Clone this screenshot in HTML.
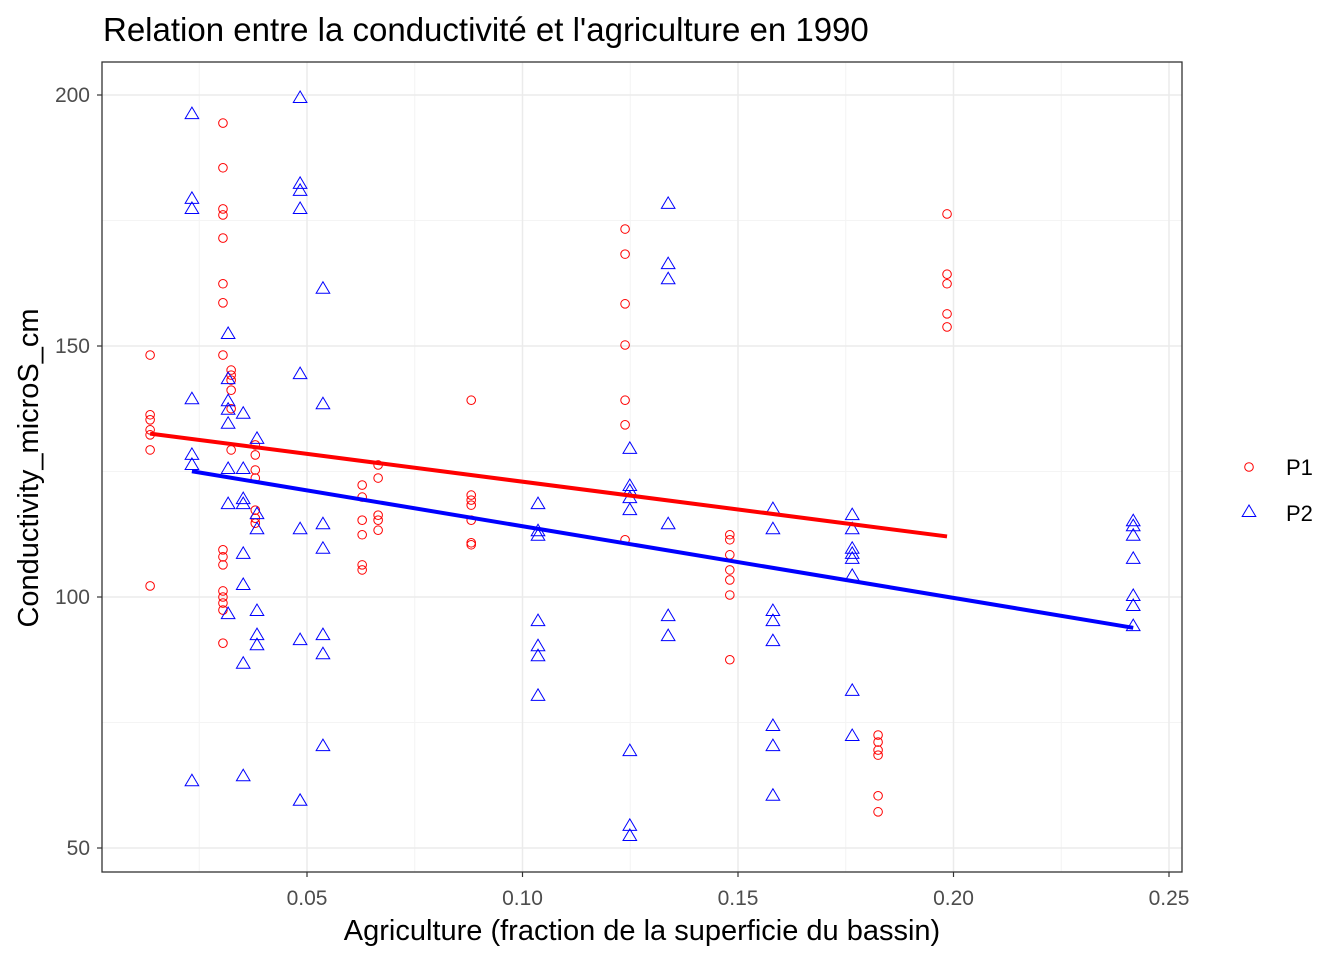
<!DOCTYPE html>
<html><head><meta charset="utf-8"><style>
body{margin:0;background:#fff}
svg{display:block;font-family:"Liberation Sans",Arial,sans-serif}
</style></head><body>
<svg id="c" width="1344" height="960" xmlns="http://www.w3.org/2000/svg"></svg>
<script>
const xTicks=[0.05,0.10,0.15,0.20,0.25];
const xTickLabels=["0.05","0.10","0.15","0.20","0.25"];
const yTicks=[50,100,150,200];
const yTickLabels=["50","100","150","200"];
const seriesNames=["P1","P2"];
const p1X=[0.0136,0.0136,0.0136,0.0136,0.0136,0.0136,0.0136,
0.0305,0.0305,0.0305,0.0305,0.0305,0.0305,0.0305,0.0305,0.0305,0.0305,0.0305,0.0305,0.0305,0.0305,0.0305,0.0305,
0.0324,0.0324,0.0324,0.0324,0.0324,0.0324,
0.0380,0.0380,0.0380,0.0380,0.0380,0.0380,0.0380,
0.0628,0.0628,0.0628,0.0628,0.0628,0.0628,
0.0665,0.0665,0.0665,0.0665,0.0665,
0.0881,0.0881,0.0881,0.0881,0.0881,0.0881,0.0881,
0.1238,0.1238,0.1238,0.1238,0.1238,0.1238,0.1238,
0.1481,0.1481,0.1481,0.1481,0.1481,0.1481,0.1481,
0.1825,0.1825,0.1825,0.1825,0.1825,0.1825,
0.1985,0.1985,0.1985,0.1985,0.1985];
const p1Y=[148.2,136.3,135.3,133.3,132.3,129.3,102.2,
194.4,185.5,177.3,176.1,171.5,162.4,158.6,148.2,109.4,108.0,106.4,101.2,100.0,98.8,97.4,90.8,
145.2,144.2,143.2,141.2,137.5,129.3,
130.3,128.3,125.3,123.7,117.3,115.7,114.7,
122.3,119.9,115.3,112.4,106.4,105.4,
126.3,123.7,116.3,115.3,113.3,
139.2,120.3,119.3,118.3,115.3,110.8,110.4,
173.3,168.3,158.4,150.2,139.2,134.3,111.4,
112.4,111.4,108.4,105.4,103.4,100.4,87.5,
72.5,71.1,69.5,68.5,60.4,57.2,
176.3,164.3,162.4,156.4,153.8];
const p2X=[0.0233,0.0233,0.0233,0.0233,0.0233,0.0233,0.0233,
0.0317,0.0317,0.0317,0.0317,0.0317,0.0317,0.0317,0.0317,
0.0352,0.0352,0.0352,0.0352,0.0352,0.0352,0.0352,0.0352,
0.0384,0.0384,0.0384,0.0384,0.0384,0.0384,
0.0484,0.0484,0.0484,0.0484,0.0484,0.0484,0.0484,0.0484,
0.0537,0.0537,0.0537,0.0537,0.0537,0.0537,0.0537,
0.1036,0.1036,0.1036,0.1036,0.1036,0.1036,0.1036,
0.1249,0.1249,0.1249,0.1249,0.1249,0.1249,0.1249,0.1249,
0.1338,0.1338,0.1338,0.1338,0.1338,0.1338,
0.1581,0.1581,0.1581,0.1581,0.1581,0.1581,0.1581,0.1581,
0.1765,0.1765,0.1765,0.1765,0.1765,0.1765,0.1765,0.1765,
0.2417,0.2417,0.2417,0.2417,0.2417,0.2417,0.2417];
const p2Y=[196.4,179.5,177.5,139.6,128.5,126.5,63.5,
152.6,143.6,139.2,137.5,134.7,125.7,118.7,96.8,
136.7,125.7,119.7,118.7,108.8,102.6,86.9,64.5,
131.7,116.7,113.7,97.4,92.6,90.6,
199.6,182.5,181.1,177.5,144.6,113.7,91.6,59.6,
161.6,138.6,114.7,109.8,92.6,88.8,70.5,
118.7,113.3,112.4,95.4,90.4,88.4,80.5,
129.7,122.3,121.3,119.9,117.5,69.5,54.6,52.6,
178.5,166.5,163.5,114.7,96.4,92.4,
117.7,113.7,97.4,95.4,91.4,74.5,70.5,60.6,
116.5,113.7,109.8,108.8,107.8,104.4,81.5,72.5,
115.3,114.3,112.4,107.8,100.4,98.4,94.4];

const svg=document.getElementById('c');
const NS="http://www.w3.org/2000/svg";
const L=102,R=1182,T=62,B=872;
const sx=v=>91.5+v*4310;
const sy=v=>95+(200-v)*5.02;
function mk(tag,at,parent){const e=document.createElementNS(NS,tag);for(const k in at)e.setAttribute(k,at[k]);(parent||svg).appendChild(e);return e;}

const minorX=[0.025,0.075,0.125,0.175,0.225], minorY=[75,125,175];
minorX.forEach(v=>{const e=mk('line',{x1:sx(v),x2:sx(v),y1:T,y2:B,stroke:'#f4f4f4','stroke-width':1});

});
minorY.forEach(v=>{const e=mk('line',{x1:L,x2:R,y1:sy(v),y2:sy(v),stroke:'#f4f4f4','stroke-width':1});

});
xTicks.forEach((v,i)=>{const g=mk('line',{x1:sx(v),x2:sx(v),y1:T,y2:B,stroke:'#ebebeb','stroke-width':1.5});


const t=mk('line',{x1:sx(v),x2:sx(v),y1:B,y2:B+5,stroke:'#333','stroke-width':1.2});


const tx=mk('text',{x:sx(v),y:B+33,'text-anchor':'middle','font-size':21,fill:'#4d4d4d'});tx.textContent=xTickLabels[i];

});
yTicks.forEach((v,i)=>{const g=mk('line',{x1:L,x2:R,y1:sy(v),y2:sy(v),stroke:'#ebebeb','stroke-width':1.5});


const t=mk('line',{x1:L-5,x2:L,y1:sy(v),y2:sy(v),stroke:'#333','stroke-width':1.2});


const tx=mk('text',{x:L-12,y:sy(v)+7,'text-anchor':'end','font-size':21,fill:'#4d4d4d'});tx.textContent=yTickLabels[i];

});

function circle(x,y,p){return mk('circle',{cx:x,cy:y,r:4.3,fill:'none',stroke:'#ff0000','stroke-width':1},p);}
function tri(x,y,p){return mk('polygon',{points:`${x},${y-6} ${x-6.8},${y+5.5} ${x+6.8},${y+5.5}`,fill:'none',stroke:'#0000ff','stroke-width':1},p);}

function fit(xs,ys){const n=xs.length;let mx=0,my=0;for(let i=0;i<n;i++){mx+=xs[i];my+=ys[i];}mx/=n;my/=n;let sxy=0,sxx=0;for(let i=0;i<n;i++){sxy+=(xs[i]-mx)*(ys[i]-my);sxx+=(xs[i]-mx)**2;}const b=sxy/sxx;return [my-b*mx,b];}

const g1=mk('g',{});
p1X.forEach((v,i)=>{const e=circle(sx(v),sy(p1Y[i]),g1);

});
const g2=mk('g',{});
p2X.forEach((v,i)=>{const e=tri(sx(v),sy(p2Y[i]),g2);

});

[[p1X,p1Y,'#ff0000','trend-line-p1'],[p2X,p2Y,'#0000ff','trend-line-p2']].forEach(([xs,ys,c,n])=>{
const [a,b]=fit(xs,ys);const x0=Math.min(...xs),x1=Math.max(...xs);
const e=mk('line',{x1:sx(x0),y1:sy(a+b*x0),x2:sx(x1),y2:sy(a+b*x1),stroke:c,'stroke-width':4});

});

const frame=mk('rect',{x:L,y:T,width:R-L,height:B-T,fill:'none',stroke:'#333','stroke-width':1.3});



const title=mk('text',{x:103,y:41,'font-size':33,fill:'#000'});title.textContent="Relation entre la conductivité et l'agriculture en 1990";


const xt=mk('text',{x:642,y:940,'text-anchor':'middle','font-size':29,fill:'#000'});xt.textContent="Agriculture (fraction de la superficie du bassin)";


const yt=mk('text',{x:0,y:0,'text-anchor':'middle','font-size':29,fill:'#000',transform:'translate(38,468) rotate(-90)'});yt.textContent="Conductivity_microS_cm";



const lg=mk('g',{});
const le1=mk('g',{},lg);
circle(1249,467,le1);
const l1=mk('text',{x:1286,y:475,'font-size':22,fill:'#000'},le1);l1.textContent=seriesNames[0];
const le2=mk('g',{},lg);
tri(1249,511,le2);
const l2=mk('text',{x:1286,y:521,'font-size':22,fill:'#000'},le2);l2.textContent=seriesNames[1];
</script>
</body></html>
